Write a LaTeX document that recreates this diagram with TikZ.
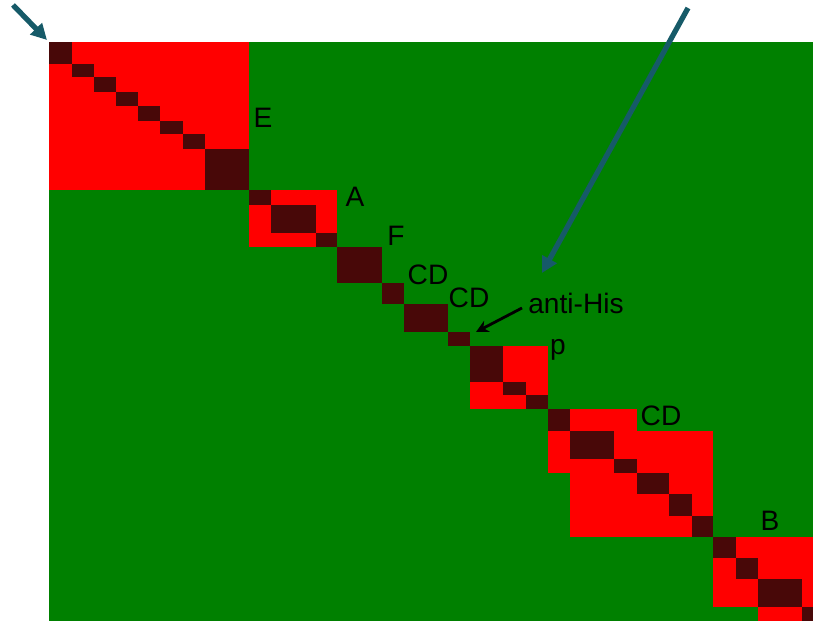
\documentclass[tikz,border=0pt]{standalone}
\usepackage{fontspec}
\setmainfont{Liberation Sans}
\usetikzlibrary{arrows.meta}
\definecolor{fondo}{RGB}{0,128,0}
\definecolor{bloquerojo}{RGB}{255,0,0}
\definecolor{celda}{RGB}{72,8,8}
\definecolor{azul}{RGB}{22,90,104}
\begin{document}
\begin{tikzpicture}[
        x=0.02cm, y=-0.02cm,
        rojo/.style={fill=bloquerojo},
        diag/.style={fill=celda},
        etiqueta/.style={anchor=base, inner sep=0pt, font=\fontsize{16}{19}\selectfont},
        flechaazul/.style={azul, line width=3pt, -{Triangle[length=9pt,width=9pt]}},
        flecha/.style={black, line width=1.6pt, -{Stealth[length=7pt,width=7pt]}}
    ]
        \useasboundingbox (0,0) rectangle (813,621);
        \fill[fondo] (49,42) rectangle (813,621);
        % bloques rojos
        \fill[rojo] (49,42) rectangle (249,190);
        \fill[rojo] (249,190) rectangle (337,247);
        \fill[rojo] (470,346) rectangle (548,409);
        \fill[rojo] (548,431) rectangle (713,473);
        \fill[rojo] (570,409) rectangle (637,537);
        \fill[rojo] (570,473) rectangle (713,537);
        \fill[rojo] (713,537) rectangle (813,607);
        \fill[rojo] (758,607) rectangle (813,621);
        % diagonal
        \foreach \xa/\xb/\ya/\yb in {49/72/42/64, 72/94/64/77, 94/116/77/92,
            116/138/92/106, 138/160/106/121, 160/183/121/134, 183/205/134/149,
            205/249/149/190, 249/271/190/205, 271/316/205/233, 316/337/233/247,
            337/382/247/283, 382/404/283/304, 404/448/304/332, 448/470/332/346,
            470/503/346/382, 503/526/382/395, 526/548/395/409, 548/570/409/431,
            570/614/431/459, 614/637/459/473, 637/669/473/494, 669/692/494/516,
            692/713/516/537, 713/736/537/558, 736/758/558/579, 758/802/579/607,
            802/813/607/621}
            \fill[diag] (\xa,\ya) rectangle (\xb,\yb);
        \node[etiqueta] (E) at (263,128) {E};
        \node[etiqueta] (A) at (355,207) {A};
        \node[etiqueta] (F) at (396,245) {F};
        \node[etiqueta] (cd1) at (428,284) {CD};
        \node[etiqueta] (cd2) at (469,307) {CD};
        \node[etiqueta] (antihis) at (576,313) {anti-His};
        \node[etiqueta] (p) at (558,354) {p};
        \node[etiqueta] (cd3) at (661,425) {CD};
        \node[etiqueta] (B) at (770,530) {B};
        \coordinate (inicio) at (13,5);
        \coordinate (esquina) at (47,40);
        \coordinate (arriba) at (688,8);
        \coordinate (centro) at (542,273);
        \coordinate (his cola) at (522,308);
        \coordinate (his punta) at (476,332);
        \draw[flechaazul] (inicio) -- (esquina);
        \draw[flechaazul] (arriba) -- (centro);
        \draw[flecha] (his cola) -- (his punta);
    \end{tikzpicture}
\end{document}
